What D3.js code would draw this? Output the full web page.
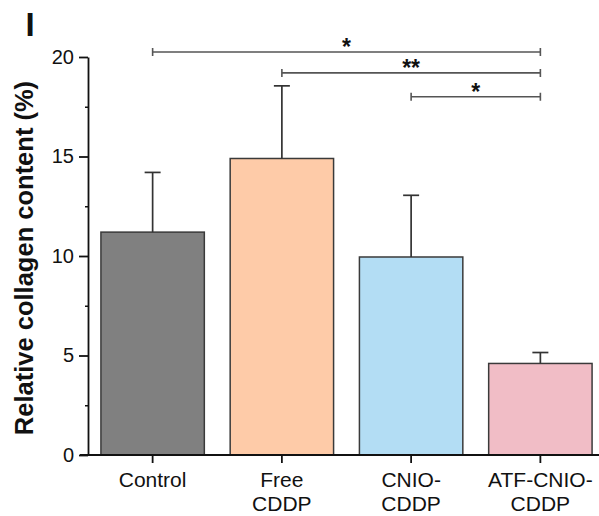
<!DOCTYPE html>
<html>
<head>
<meta charset="utf-8">
<script src="https://cdn.jsdelivr.net/npm/d3@7"></script>
<style>
  body { margin: 0; background: #fff; }
  svg { display: block; font-family: "Liberation Sans", Arial, sans-serif; }
</style>
</head>
<body>
<div id="container"></div>
<script>
"use strict";

const width = 599;
const height = 516;

// chart values
const groups = ["Control", "Free CDDP", "CNIO- CDDP", "ATF-CNIO- CDDP"];
const labelLines = [["Control"], ["Free", "CDDP"], ["CNIO-", "CDDP"], ["ATF-CNIO-", "CDDP"]];
const means = [11.2, 14.9, 9.95, 4.6];
const errors = [3.0, 3.65, 3.1, 0.55];
const barColors = ["#808080", "#fecba8", "#b3ddf4", "#f1bdc6"];

const yTicks = [0, 5, 10, 15, 20];
const yMinorTicks = [2.5, 7.5, 12.5, 17.5];

// significance comparisons: from group, to group, level (%), mark
const compFrom = [0, 1, 2];
const compTo = [3, 3, 3];
const compLevel = [20.25, 19.2, 18.0];
const compMark = ["*", "**", "*"];

const svg = d3
  .select("#container")
  .append("svg")
  .attr("width", width)
  .attr("height", height);

const xScale = d3
  .scaleBand()
  .domain(groups)
  .range([88, 605])
  .paddingInner(0.2)
  .paddingOuter(0.1);

const yScale = d3.scaleLinear().domain([0, 20]).range([455, 57]);

// bars
svg
  .selectAll("rect.bar")
  .data(groups)
  .enter()
  .append("rect")
  .attr("class", "bar")
  .attr("x", (d) => xScale(d))
  .attr("y", (d, i) => yScale(means[i]))
  .attr("width", xScale.bandwidth())
  .attr("height", (d, i) => yScale(0) - yScale(means[i]))
  .attr("fill", (d, i) => barColors[i])
  .attr("stroke", "#3a3a3a")
  .attr("stroke-width", 1.5);

// error bars (upper only)
const errG = svg.append("g").attr("stroke", "#333").attr("stroke-width", 1.7);
groups.forEach((g, i) => {
  const cx = xScale(g) + xScale.bandwidth() / 2;
  errG
    .append("line")
    .attr("x1", cx)
    .attr("x2", cx)
    .attr("y1", yScale(means[i]))
    .attr("y2", yScale(means[i] + errors[i]));
  errG
    .append("line")
    .attr("x1", cx - 8)
    .attr("x2", cx + 8)
    .attr("y1", yScale(means[i] + errors[i]))
    .attr("y2", yScale(means[i] + errors[i]));
});

// y axis
const yAxis = d3.axisLeft(yScale).tickValues(yTicks).tickSize(9).tickSizeOuter(0).tickPadding(5);
const yG = svg.append("g").attr("transform", "translate(88,0)").call(yAxis);
yG.selectAll("path, line").attr("stroke", "#111").attr("stroke-width", 1.8);
yG.selectAll("text")
  .style("font-size", "20px")
  .style("font-family", "Liberation Sans, Arial, sans-serif")
  .attr("fill", "#111");

const yMinor = d3.axisLeft(yScale).tickValues(yMinorTicks).tickSize(3).tickFormat("");
const yMinorG = svg.append("g").attr("transform", "translate(88,0)").call(yMinor);
yMinorG.select(".domain").remove();
yMinorG.selectAll("line").attr("stroke", "#111").attr("stroke-width", 1.5);

// x axis
const xAxis = d3.axisBottom(xScale).tickSize(8).tickSizeOuter(0).tickFormat("");
const xG = svg.append("g").attr("transform", "translate(0,455)").call(xAxis);
xG.select(".domain").attr("d", "M80,0H599");
xG.selectAll("path, line").attr("stroke", "#111").attr("stroke-width", 1.8);

// category labels
groups.forEach((g, i) => {
  const t = svg
    .append("text")
    .attr("x", xScale(g) + xScale.bandwidth() / 2)
    .attr("y", 487)
    .attr("text-anchor", "middle")
    .style("font-size", "21px")
    .attr("fill", "#111");
  labelLines[i].forEach((line, j) => {
    t.append("tspan")
      .attr("x", xScale(g) + xScale.bandwidth() / 2)
      .attr("dy", j === 0 ? 0 : 24)
      .text(line);
  });
});

// y title
svg
  .append("text")
  .attr("text-anchor", "middle")
  .attr("transform", "translate(33, 258) rotate(-90)")
  .style("font-size", "25.5px")
  .style("font-weight", "bold")
  .attr("fill", "#111")
  .text("Relative collagen content (%)");

// panel letter
svg
  .append("text")
  .attr("x", 30)
  .attr("y", 36)
  .attr("text-anchor", "middle")
  .style("font-size", "33px")
  .style("font-weight", "bold")
  .attr("fill", "#111")
  .text("I");

// significance brackets
const sigG = svg.append("g");
compFrom.forEach((f, k) => {
  const x1 = xScale(groups[f]) + xScale.bandwidth() / 2;
  const x2 = xScale(groups[compTo[k]]) + xScale.bandwidth() / 2;
  const y = yScale(compLevel[k]);
  const path = `M${x1},${y - 4}V${y + 4}M${x1},${y}H${x2}M${x2},${y - 4}V${y + 4}`;
  sigG
    .append("path")
    .attr("d", path)
    .attr("fill", "none")
    .attr("stroke", "#555")
    .attr("stroke-width", 1.6);
  sigG
    .append("text")
    .attr("x", (x1 + x2) / 2)
    .attr("y", y + 3)
    .attr("text-anchor", "middle")
    .style("font-size", "23px")
    .style("font-weight", "bold")
    .attr("fill", "#111")
    .text(compMark[k]);
});
</script>
</body>
</html>
